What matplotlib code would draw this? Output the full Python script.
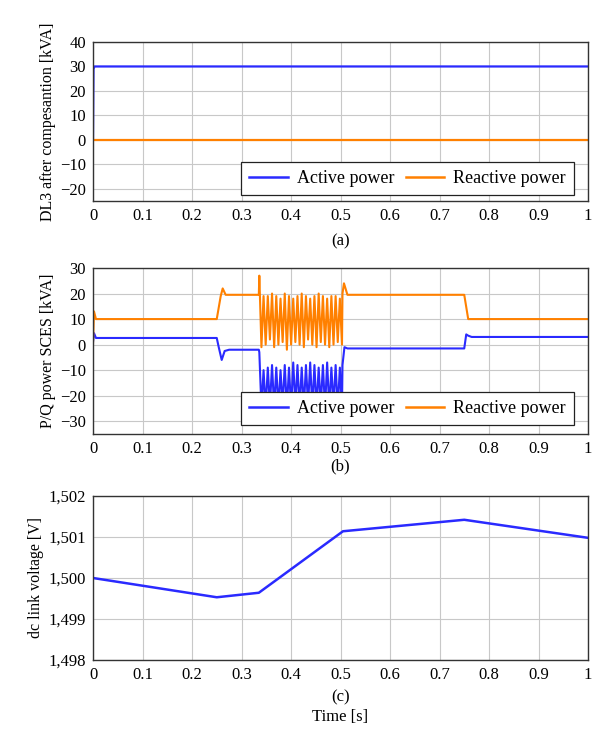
import numpy as np
import matplotlib
matplotlib.use("Agg")
import matplotlib.pyplot as plt

plt.rcParams['font.family'] = ['Liberation Serif', 'DejaVu Serif']
plt.rcParams['mathtext.fontset'] = 'stix'

BLUE = '#2a2aff'
ORANGE = '#ff8000'

# ---------------- data ----------------
x_ticks = [0, 0.1, 0.2, 0.3, 0.4, 0.5, 0.6, 0.7, 0.8, 0.9, 1]
x_ticklabels = ['0', '0.1', '0.2', '0.3', '0.4', '0.5', '0.6', '0.7', '0.8', '0.9', '1']

# (a) DL3 after compensation
a_t_active = [0, 0.001, 0.003, 1.0]
a_v_active = [0, 29, 30, 30]
a_t_reactive = [0, 0.003, 1.0]
a_v_reactive = [0, 0, 0]
a_yticks = [-20, -10, 0, 10, 20, 30, 40]

# (b) P/Q power SCES: piecewise breakpoints
b_t_active_pre = [0, 0.002, 0.006, 0.25, 0.254, 0.26, 0.266, 0.275, 0.335]
b_v_active_pre = [1, 4.5, 2.6, 2.6, -1, -6, -2.5, -2, -2]
b_t_reactive_pre = [0, 0.002, 0.006, 0.25, 0.258, 0.262, 0.268, 0.335]
b_v_reactive_pre = [0.5, 13, 10, 10, 19, 22, 19.5, 19.5]

# oscillation between 0.336 and 0.503 (peaks / troughs per cycle)
b_osc_start, b_osc_end = 0.336, 0.503
b_orange_peaks = [27, 19, 19, 20, 19, 18, 20, 19, 18, 19, 20, 19, 18, 19, 20, 19, 18, 19, 19, 18]
b_orange_troughs = [-1, 0, 2, -1, 0, 1, -2, 0, 1, 0, -1, 2, 0, -1, 1, 0, -1, 0, 1, 0]
b_blue_peaks = [-3, -10, -9, -8, -9, -10, -8, -9, -7, -8, -9, -8, -7, -8, -9, -8, -7, -9, -8, -9]
b_blue_troughs = [-25, -25, -24, -25, -25, -24, -25, -25, -24, -25, -25, -24, -25, -25, -24, -25, -25, -24, -25, -25]

b_t_active_post = [0.504, 0.508, 0.514, 0.75, 0.754, 0.758, 0.765, 1.0]
b_v_active_post = [-8, -1, -1.5, -1.5, 4, 3.5, 3, 3]
b_t_reactive_post = [0.504, 0.507, 0.514, 0.75, 0.758, 0.765, 1.0]
b_v_reactive_post = [20, 24, 19.5, 19.5, 10, 10, 10]
b_yticks = [-30, -20, -10, 0, 10, 20, 30]

# (c) dc link voltage
c_t = [0, 0.25, 0.335, 0.505, 0.75, 1.0]
c_v = [1500.0, 1499.53, 1499.64, 1501.14, 1501.42, 1500.98]
c_yticks = [1498, 1499, 1500, 1501, 1502]
c_yticklabels = ['1,498', '1,499', '1,500', '1,501', '1,502']


def osc(t0, t1, peaks, troughs):
    n = len(peaks)
    tp = np.linspace(t0, t1, 2 * n)
    vals = []
    for p, q in zip(peaks, troughs):
        vals += [p, q]
    return tp, np.array(vals)


# ---------------- figure ----------------
fig = plt.figure(figsize=(5.98, 7.33), dpi=100)
W, H = 598, 733

def add_ax(left, top, right, bottom):
    return fig.add_axes([left / W, 1 - bottom / H, (right - left) / W, (bottom - top) / H])

ax_a = add_ax(93, 42, 588, 201)
ax_b = add_ax(93, 268, 588, 434)
ax_c = add_ax(93, 496, 588, 660)

FS = 11.5
TFS = 12
LFS = 13

def style(ax):
    ax.set_xlim(0, 1)
    ax.set_xticks(x_ticks)
    ax.set_xticklabels(x_ticklabels)
    ax.grid(True, color='#c8c8c8', linewidth=0.8)
    ax.set_axisbelow(True)
    ax.tick_params(length=0, labelsize=TFS, pad=5)
    for s in ax.spines.values():
        s.set_color('#333333')
        s.set_linewidth(1.0)

# (a)
style(ax_a)
ax_a.plot(a_t_active, a_v_active, color=BLUE, lw=1.6, label='Active power')
ax_a.plot(a_t_reactive, a_v_reactive, color=ORANGE, lw=1.6, label='Reactive power')
ax_a.set_ylim(-25, 40)
ax_a.set_yticks(a_yticks)
ax_a.set_ylabel('DL3 after compesantion [kVA]', fontsize=FS, labelpad=3)

# (b)
style(ax_b)
to, vo = osc(b_osc_start, b_osc_end, b_orange_peaks, b_orange_troughs)
tb, vb = osc(b_osc_start, b_osc_end, b_blue_peaks, b_blue_troughs)
t_act = np.concatenate([b_t_active_pre, tb, b_t_active_post])
v_act = np.concatenate([b_v_active_pre, vb, b_v_active_post])
t_rea = np.concatenate([b_t_reactive_pre, to, b_t_reactive_post])
v_rea = np.concatenate([b_v_reactive_pre, vo, b_v_reactive_post])
ax_b.plot(t_act, v_act, color=BLUE, lw=1.5, label='Active power')
ax_b.plot(t_rea, v_rea, color=ORANGE, lw=1.5, label='Reactive power')
ax_b.set_ylim(-35, 30)
ax_b.set_yticks(b_yticks)
ax_b.set_ylabel('P/Q power SCES [kVA]', fontsize=FS, labelpad=3)

# (c)
style(ax_c)
ax_c.plot(c_t, c_v, color=BLUE, lw=1.8)
ax_c.set_ylim(1498, 1502)
ax_c.set_yticks(c_yticks)
ax_c.set_yticklabels(c_yticklabels)
ax_c.set_ylabel('dc link voltage [V]', fontsize=FS, labelpad=3)

for ax, yb in ((ax_a, 0.038), (ax_b, 0.054)):
    leg = ax.legend(loc='lower right', bbox_to_anchor=(0.972, yb), ncol=2,
                    fontsize=LFS, frameon=True, fancybox=False, framealpha=1,
                    edgecolor='#222222', borderaxespad=0, handlelength=2.15,
                    columnspacing=0.6, handletextpad=0.5, borderpad=0.45)
    leg.get_frame().set_linewidth(0.9)
    for ln in leg.get_lines():
        ln.set_linewidth(1.8)

cx = (93 + 588) / 2 / W
fig.text(cx, 1 - 241 / H, '(a)', ha='center', va='center', fontsize=TFS)
fig.text(cx, 1 - 466 / H, '(b)', ha='center', va='center', fontsize=TFS)
fig.text(cx, 1 - 697 / H, '(c)', ha='center', va='center', fontsize=TFS)
fig.text(cx, 1 - 717 / H, 'Time [s]', ha='center', va='center', fontsize=TFS)

fig.savefig('out.png', dpi=100)
